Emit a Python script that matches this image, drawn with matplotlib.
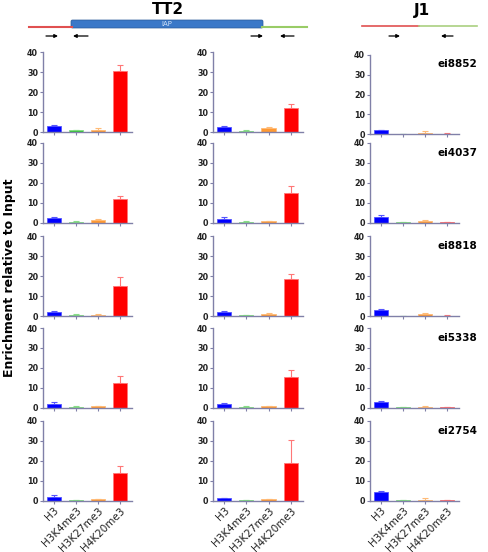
import numpy as np
import matplotlib.pyplot as plt
from matplotlib.patches import FancyBboxPatch

# Histone marks and colours
marks = ['H3', 'H3K4me3', 'H3K27me3', 'H4K20me3']
bar_colors = ['#0000ff', '#33cc33', '#ff9933', '#ff0000']
edge_colors = ['#5555ff', '#88dd88', '#ffbb77', '#ff7777']

loci = ['ei8852', 'ei4037', 'ei8818', 'ei5338', 'ei2754']

# TT2, primer pair 1 (left of IAP)
tt2_left = [[3.0, 0.8, 1.2, 30.5],
            [2.5, 0.5, 1.1, 12.0],
            [2.0, 0.6, 0.7, 15.0],
            [2.0, 0.4, 0.6, 12.2],
            [2.0, 0.3, 0.7, 14.0]]
tt2_left_err = [[0.3, 0.3, 0.8, 3.0],
                [0.4, 0.1, 0.6, 1.5],
                [0.6, 0.2, 0.2, 4.5],
                [0.8, 0.2, 0.3, 3.8],
                [0.8, 0.1, 0.3, 3.5]]

# TT2, primer pair 2 (right of IAP)
tt2_right = [[2.5, 0.6, 2.0, 12.0],
             [2.0, 0.5, 0.6, 15.0],
             [2.0, 0.4, 1.2, 18.5],
             [2.0, 0.4, 0.6, 15.5],
             [1.3, 0.3, 0.6, 19.0]]
tt2_right_err = [[0.3, 0.2, 0.3, 2.0],
                 [1.0, 0.2, 0.4, 3.5],
                 [0.5, 0.1, 0.5, 2.5],
                 [0.5, 0.2, 0.2, 3.5],
                 [0.2, 0.1, 0.2, 11.5]]

# J1 (empty site)
j1 = [[1.8, 0.1, 0.6, 0.2],
      [2.8, 0.3, 0.8, 0.2],
      [2.8, 0.1, 0.8, 0.2],
      [3.0, 0.3, 0.5, 0.2],
      [4.2, 0.1, 0.5, 0.2]]
j1_err = [[0.4, 0.05, 1.0, 0.2],
          [0.9, 0.2, 0.7, 0.3],
          [0.7, 0.05, 0.6, 0.2],
          [0.3, 0.1, 0.4, 0.1],
          [0.6, 0.05, 0.6, 0.2]]

W, H = 489, 552
fig = plt.figure(figsize=(W / 100, H / 100), dpi=100)

def px_axes(x0, y0, x1, y1):
    # axes from pixel box (top-left origin)
    return fig.add_axes([x0 / W, 1 - y1 / H, (x1 - x0) / W, (y1 - y0) / H])

col_x = [(43, 132), (213, 303), (370, 459)]
row_y = [(52, 132), (143, 222.5), (236, 316), (328, 407.5), (421, 500.5)]
datasets = [(tt2_left, tt2_left_err), (tt2_right, tt2_right_err), (j1, j1_err)]
axis_col = '#8080a8'

x = np.arange(len(marks))
for c, (vals, errs) in enumerate(datasets):
    for r in range(len(loci)):
        y0, y1 = row_y[r]
        if c == 2 and r == 0:
            y0, y1 = y0 + 3, y1 + 2
        ax = px_axes(col_x[c][0], y0, col_x[c][1], y1)
        for i in range(len(marks)):
            ax.bar(x[i], vals[r][i], width=0.64, color=bar_colors[i],
                   edgecolor=edge_colors[i], linewidth=0.6, zorder=2)
            ax.errorbar(x[i], vals[r][i], yerr=[[0], [errs[r][i]]],
                        fmt='none', ecolor=edge_colors[i], elinewidth=0.8,
                        capsize=2, capthick=0.8, zorder=1)
        ax.set_xlim(-0.5, 3.55)
        ax.set_ylim(0, 40)
        ax.set_yticks([0, 10, 20, 30, 40])
        ax.set_xticks(x)
        for s in ['top', 'right']:
            ax.spines[s].set_visible(False)
        for s in ['left', 'bottom']:
            ax.spines[s].set_color(axis_col)
            ax.spines[s].set_linewidth(1.0)
        ax.tick_params(axis='both', colors=axis_col, length=2.5, width=0.8,
                       labelsize=5.8, labelcolor='#222222', pad=1)
        for lab in ax.get_yticklabels():
            lab.set_fontweight('bold')
        if r == len(loci) - 1:
            ax.set_xticklabels(marks, rotation=45, ha='right',
                               rotation_mode='anchor', fontsize=7.5)
        else:
            ax.set_xticklabels([])
        if c == 2:
            ax.text(1.21, 0.88, loci[r], transform=ax.transAxes, ha='right',
                    va='center', fontsize=7.5, fontweight='bold')

# y label
fig.text(10 / W, 1 - 278 / H, 'Enrichment relative to Input', rotation=90,
         ha='center', va='center', fontsize=9, fontweight='bold')

# Header diagram
hx = fig.add_axes([0, 0, 1, 1], zorder=-1)
hx.set_xlim(0, W)
hx.set_ylim(H, 0)
hx.axis('off')
hx.text(168, 10, 'TT2', ha='center', va='center', fontsize=11, fontweight='bold')
hx.text(422, 10, 'J1', ha='center', va='center', fontsize=11, fontweight='bold')
hx.plot([29, 72], [26.5, 26.5], color='#e05050', lw=1.5)
hx.plot([262, 307], [26.5, 26.5], color='#99cc66', lw=1.5)
hx.add_patch(FancyBboxPatch((71, 20), 192, 8, boxstyle='round,pad=0,rounding_size=1.5',
                            facecolor='#3a78c8', edgecolor='#2a5a9a', lw=0.5))
hx.text(167, 24, 'IAP', ha='center', va='center', fontsize=5, color='#cfe0f5')
hx.plot([362, 419], [26, 26], color='#e05050', lw=1.2)
hx.plot([419, 477], [26, 26], color='#aad080', lw=1.2)
arrow_kw = dict(arrowstyle='-|>', color='black', lw=0.9, mutation_scale=5,
                shrinkA=0, shrinkB=0)
for xa, xb in [(46, 58), (88, 73), (251, 263), (294, 280), (389, 400), (453, 441)]:
    hx.annotate('', xy=(xb, 36), xytext=(xa, 36), arrowprops=arrow_kw)

fig.savefig('out.png', dpi=100)
